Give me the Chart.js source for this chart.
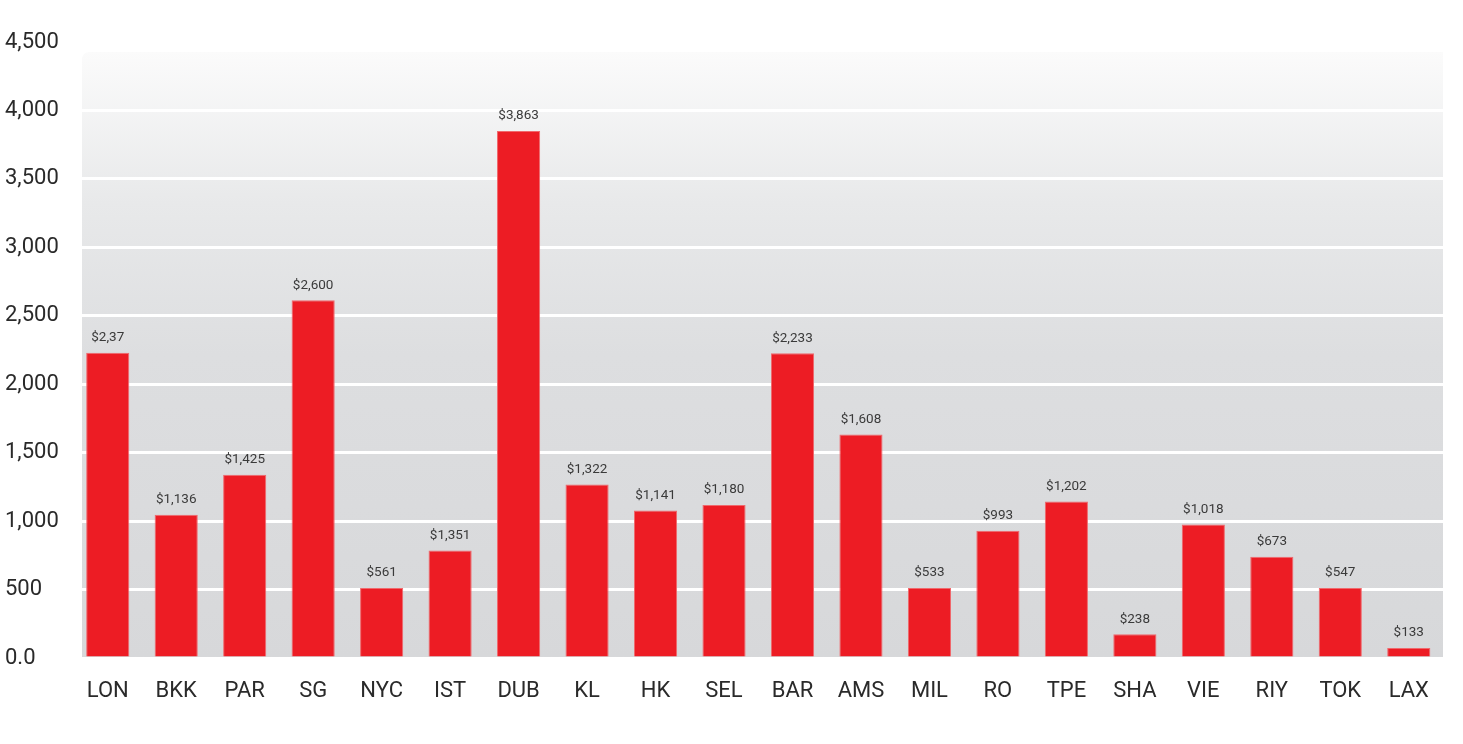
<!DOCTYPE html>
<html lang="en">
<head>
    <meta charset="UTF-8">
    <title>City prices</title>
    <script src="https://cdn.jsdelivr.net/npm/chart.js"></script>
    <style>
        html, body { margin: 0; padding: 0; background: #fff; }
        .box_grafico { width: 1463px; height: 744px; }
    </style>
</head>
<body>
<div class="box_grafico">
    <canvas id="grafico"></canvas>
</div>
<script>
var cidades = ['LON', 'BKK', 'PAR', 'SG', 'NYC', 'IST', 'DUB', 'KL', 'HK', 'SEL',
               'BAR', 'AMS', 'MIL', 'RO', 'TPE', 'SHA', 'VIE', 'RIY', 'TOK', 'LAX'];
var valores = [2229, 1046, 1339, 2614, 512, 785, 3849, 1268, 1078, 1117,
               2227, 1632, 512, 929, 1144, 173, 975, 739, 512, 73];
var rotulos = ['$2,37', '$1,136', '$1,425', '$2,600', '$561', '$1,351', '$3,863', '$1,322', '$1,141', '$1,180',
               '$2,233', '$1,608', '$533', '$993', '$1,202', '$238', '$1,018', '$673', '$547', '$133'];
var ticksY = ['0.0', '500', '1,000', '1,500', '2,000', '2,500', '3,000', '3,500', '4,000', '4,500'];

// fundo cinza em degradê atrás do gráfico
var fundo = {
    id: 'fundo',
    beforeDraw(chart) {
        var ctx = chart.ctx, a = chart.chartArea;
        var x0 = 82, x1 = 1443, y0 = a.top + 10, y1 = a.bottom;
        var g = ctx.createLinearGradient(0, y0, 0, y1);
        g.addColorStop(0, '#fbfbfb');
        g.addColorStop(0.25, '#e8e9ea');
        g.addColorStop(0.5, '#dddee0');
        g.addColorStop(1, '#d7d8da');
        ctx.save();
        ctx.fillStyle = g;
        ctx.beginPath();
        ctx.moveTo(x0, y1);
        ctx.lineTo(x0, y0 + 8);
        ctx.quadraticCurveTo(x0, y0, x0 + 8, y0);
        ctx.lineTo(x1, y0);
        ctx.lineTo(x1, y1);
        ctx.closePath();
        ctx.fill();
        ctx.restore();
    }
};

// rótulos de preço em cima das barras
var precos = {
    id: 'precos',
    afterDatasetsDraw(chart) {
        var ctx = chart.ctx;
        var meta = chart.getDatasetMeta(0);
        ctx.save();
        ctx.font = '13.5px Roboto';
        ctx.fillStyle = '#3a3a3a';
        ctx.textAlign = 'center';
        ctx.textBaseline = 'middle';
        meta.data.forEach(function (bar, i) {
            ctx.fillText(rotulos[i], bar.x, bar.y - 15);
        });
        ctx.restore();
    }
};

new Chart(document.getElementById('grafico').getContext('2d'), {
    type: 'bar',
    data: {
        labels: cidades,
        datasets: [{
            data: valores,
            backgroundColor: '#ed1c24',
            borderColor: '#f0686c',
            borderWidth: 1,
            barPercentage: 0.63,
            categoryPercentage: 1
        }]
    },
    options: {
        responsive: true,
        maintainAspectRatio: false,
        animation: false,
        layout: { padding: { top: 42, left: 5, right: 20, bottom: 0 } },
        plugins: {
            legend: { display: false },
            tooltip: { enabled: false }
        },
        scales: {
            x: {
                grid: { display: false, drawTicks: false },
                border: { display: false },
                ticks: {
                    padding: 20,
                    color: '#2a2a2a',
                    font: { family: 'Roboto', size: 22 }
                },
                afterFit(scale) { scale.height = 86; }
            },
            y: {
                min: 0,
                max: 4500,
                grid: { color: '#ffffff', lineWidth: 3, drawTicks: false },
                border: { display: false },
                ticks: {
                    stepSize: 500,
                    crossAlign: 'far',
                    color: '#2a2a2a',
                    font: { family: 'Roboto', size: 22 },
                    callback: function (v) { return ticksY[Math.round(v / 500)]; }
                },
                afterFit(scale) { scale.width = 68.5; }
            }
        }
    },
    plugins: [fundo, precos]
});
</script>
</body>
</html>
